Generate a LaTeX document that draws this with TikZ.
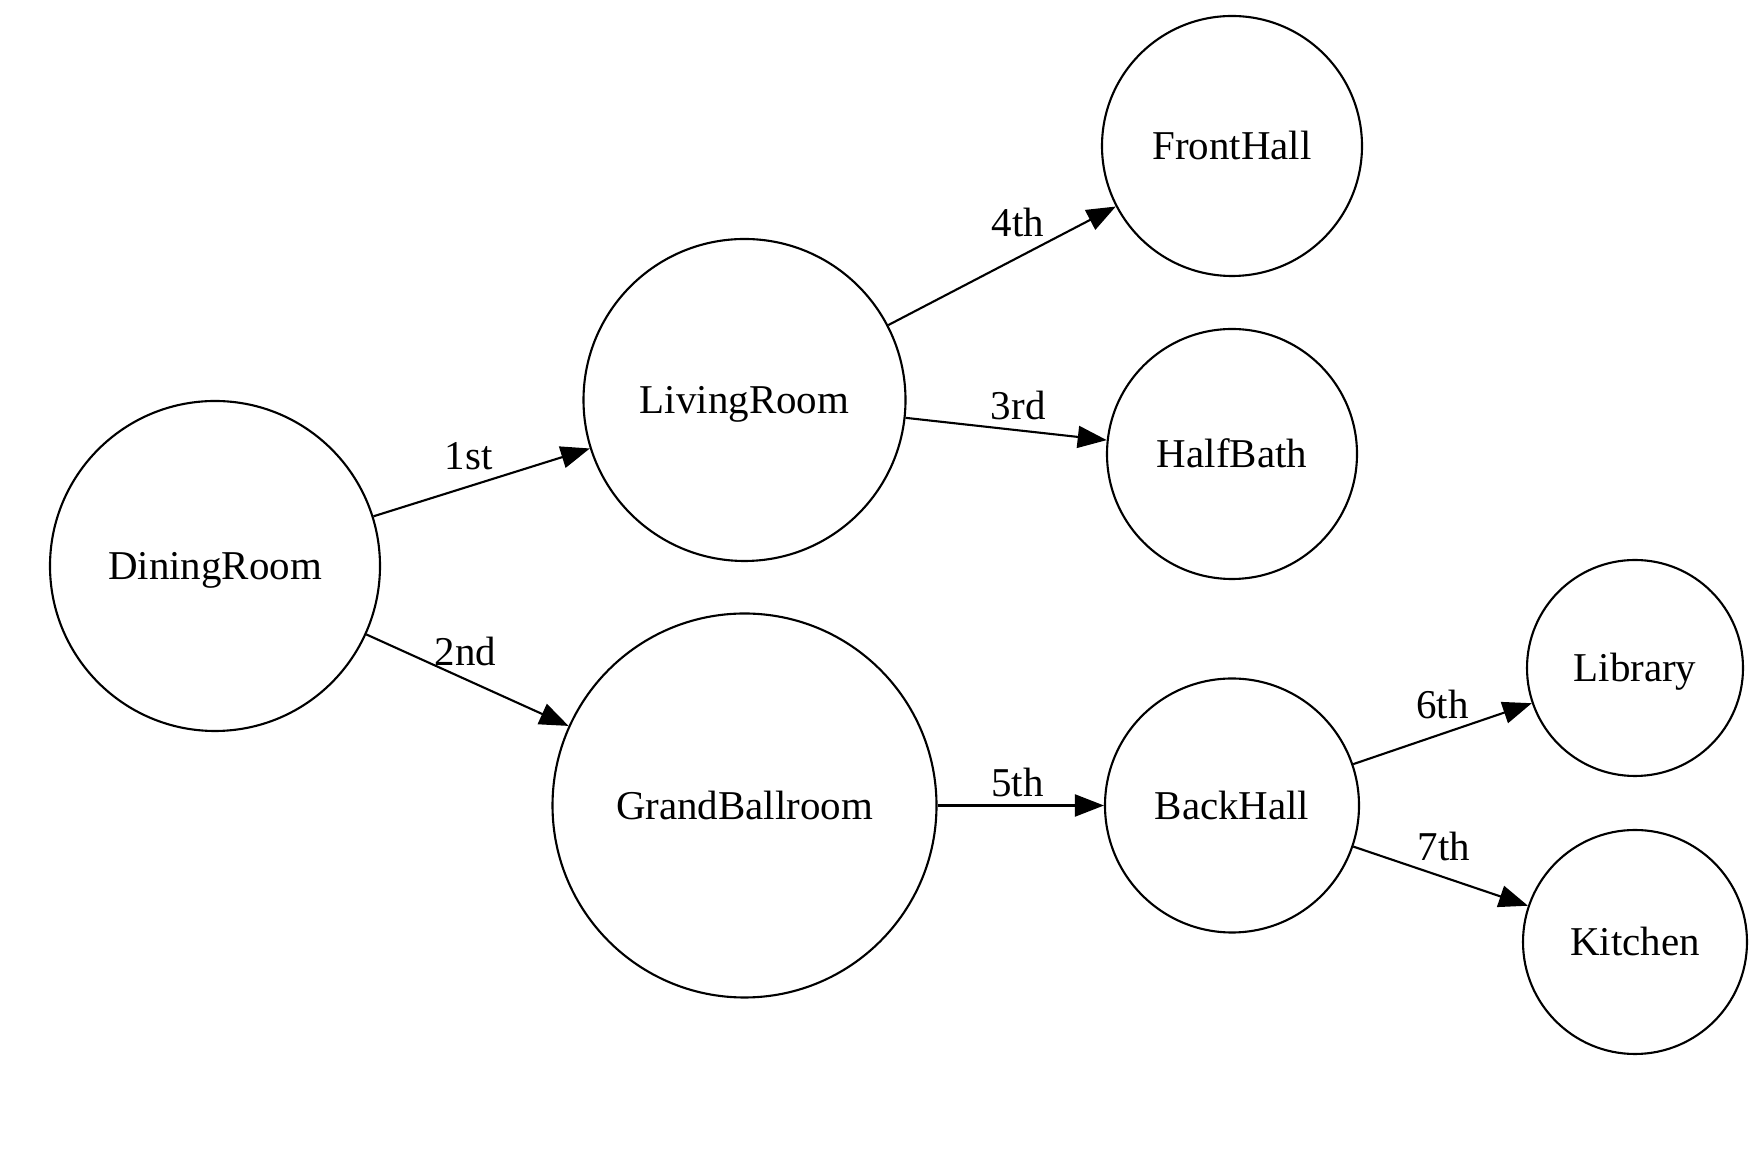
\documentclass[tikz,border=0pt]{standalone}
\usepackage{fontspec}
\setmainfont{Liberation Serif}
\usetikzlibrary{arrows.meta}

\tikzset{
	room/.style={draw, circle, inner sep=0pt, font=\fontsize{11.65}{14}\selectfont, text height=10.25pt, text depth=2.54pt},
	order/.style={font=\fontsize{11.65}{14}\selectfont, inner sep=0pt, text depth=0pt},
	pass/.style={-{Triangle[length=0.29cm,width=0.22cm]}}
}

\begin{document}
\begin{tikzpicture}[line width=0.6pt]
		\useasboundingbox (0,0) rectangle (17.52,11.49);
		\node[room, minimum size=3.30cm] (DiningRoom) at (2.15,5.83) {DiningRoom};
		\node[room, minimum size=3.22cm] (LivingRoom) at (7.445,7.49) {LivingRoom};
		\node[room, minimum size=3.84cm] (GrandBallroom) at (7.445,3.435) {GrandBallroom};
		\node[room, minimum size=2.60cm] (FrontHall) at (12.32,10.03) {FrontHall};
		\node[room, minimum size=2.50cm] (HalfBath) at (12.32,6.95) {HalfBath};
		\node[room, minimum size=2.54cm] (BackHall) at (12.32,3.435) {BackHall};
		\node[room, minimum size=2.16cm] (Library) at (16.35,4.81) {Library};
		\node[room, minimum size=2.24cm] (Kitchen) at (16.35,2.07) {Kitchen};

		\draw [pass] (DiningRoom) -- node[order,pos=.44,above=0.155cm]{1st} (LivingRoom);
		\draw [pass] (DiningRoom) -- node[order,pos=.49,above=0.13cm]{2nd} (GrandBallroom);
		\draw [pass] (LivingRoom) -- node[order,pos=.56,above=0.10cm]{3rd} (HalfBath);
		\draw [pass] (LivingRoom) -- node[order,pos=.57,above=0.20cm]{4th} (FrontHall);
		\draw [pass] (GrandBallroom) -- node[order,pos=.48,above=0.08cm]{5th} (BackHall);
		\draw [pass] (BackHall) -- node[order,pos=.50,above=0.14cm]{6th} (Library);
		\draw [pass] (BackHall) -- node[order,pos=.52,above=0.16cm]{7th} (Kitchen);
\end{tikzpicture}
\end{document}
